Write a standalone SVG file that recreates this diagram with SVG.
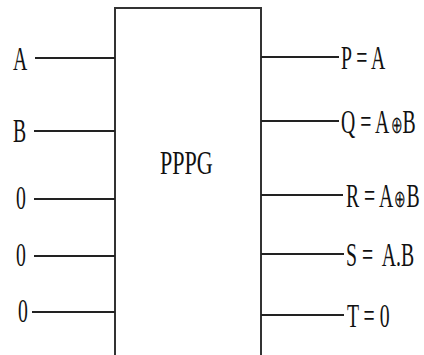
<svg xmlns="http://www.w3.org/2000/svg" width="424" height="355" viewBox="0 0 424 355">
  <style>
    .wire { stroke: #222; stroke-width: 2; fill: none; }
    .box { stroke: #333; stroke-width: 2; fill: none; }
    .lbl { font-family: "Liberation Serif", "Times New Roman", serif; font-size: 34px; fill: #111; }
    .xor { font-size: 24px; font-family: "DejaVu Sans", sans-serif; font-weight: 200; }
  </style>
  <rect width="424" height="355" fill="#fff"/>

  <!-- gate body: open at the bottom edge -->
  <g id="pppg">
    <path class="box" d="M115,355 V8 H261 V355"/>
    <text class="lbl" transform="translate(160,174) scale(0.65,1)">PPPG</text>
  </g>

  <!-- input labels -->
  <g id="in-a"><text class="lbl" transform="translate(13,70) scale(0.58,1)">A</text></g>
  <g id="in-b"><text class="lbl" transform="translate(13,142) scale(0.58,1)">B</text></g>
  <g id="in-0a"><text class="lbl" transform="translate(16,209) scale(0.58,1)">0</text></g>
  <g id="in-0b"><text class="lbl" transform="translate(16,266) scale(0.58,1)">0</text></g>
  <g id="in-0c"><text class="lbl" transform="translate(18,322) scale(0.58,1)">0</text></g>

  <!-- output labels -->
  <g id="out-p"><text class="lbl" transform="translate(341,69) scale(0.58,1)">P = A</text></g>
  <g id="out-q"><text class="lbl" transform="translate(341,133) scale(0.58,1)">Q = A<tspan class="xor" dx="2">⊕</tspan>B</text></g>
  <g id="out-r"><text class="lbl" transform="translate(346,207) scale(0.58,1)">R = A<tspan class="xor" dx="2">⊕</tspan>B</text></g>
  <g id="out-s"><text class="lbl" xml:space="preserve" transform="translate(346,266) scale(0.58,1)">S =  A.B</text></g>
  <g id="out-t"><text class="lbl" transform="translate(347,327) scale(0.58,1)">T = 0</text></g>

  <!-- connectors -->
  <g id="wires">
    <line class="wire" x1="35" y1="58" x2="115" y2="58"/>
    <line class="wire" x1="34" y1="131" x2="115" y2="131"/>
    <line class="wire" x1="34" y1="199" x2="115" y2="199"/>
    <line class="wire" x1="34" y1="256" x2="115" y2="256"/>
    <line class="wire" x1="32" y1="312" x2="115" y2="312"/>
    <line class="wire" x1="261" y1="57" x2="339" y2="57"/>
    <line class="wire" x1="261" y1="121" x2="339" y2="121"/>
    <line class="wire" x1="261" y1="195" x2="343" y2="195"/>
    <line class="wire" x1="261" y1="254" x2="344" y2="254"/>
    <line class="wire" x1="261" y1="315" x2="344" y2="315"/>
  </g>
</svg>
